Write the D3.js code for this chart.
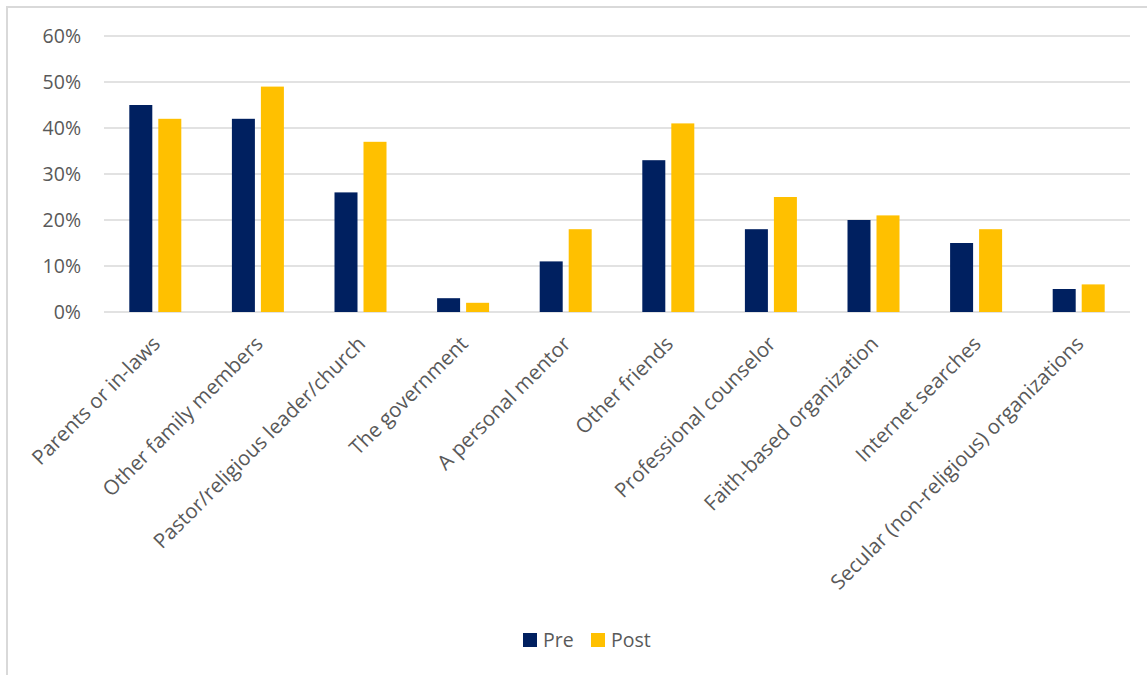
<!DOCTYPE html>
<html>
<head>
<meta charset="utf-8">
<script src="https://cdn.jsdelivr.net/npm/d3@7"></script>
<style>
  body { margin: 0; background: #fff; }
  svg { display: block; font-family: "Open Sans", Lato, sans-serif; }
</style>
</head>
<body>
<svg id="chart" width="1147" height="675"></svg>
<script>
const categories = [
  'Parents or in-laws',
  'Other family members',
  'Pastor/religious leader/church',
  'The government',
  'A personal mentor',
  'Other friends',
  'Professional counselor',
  'Faith-based organization',
  'Internet searches',
  'Secular (non-religious) organizations'
];
const preValues = [45, 42, 26, 3, 11, 33, 18, 20, 15, 5];
const postValues = [42, 49, 37, 2, 18, 41, 25, 21, 18, 6];
const yTicks = [0, 10, 20, 30, 40, 50, 60];
const seriesNames = ['Pre', 'Post'];
const seriesColors = ['#002060', '#FFC000'];

const svg = d3.select('#chart');

// chart frame (only top/left edges fall inside the picture)
svg.append('rect')
  .attr('x', 7).attr('y', 7)
  .attr('width', 1160).attr('height', 700)
  .attr('fill', 'none')
  .attr('stroke', '#d9d9d9')
  .attr('stroke-width', 2);

const plotLeft = 104, plotRight = 1130, plotTop = 36, plotBottom = 312;

const x = d3.scaleBand().domain(categories).range([plotLeft, plotRight]);
const y = d3.scaleLinear().domain([0, 60]).range([plotBottom, plotTop]);

// gridlines
svg.append('g')
  .selectAll('line')
  .data(yTicks)
  .join('line')
  .attr('x1', plotLeft).attr('x2', plotRight)
  .attr('y1', d => y(d)).attr('y2', d => y(d))
  .attr('stroke', '#d9d9d9')
  .attr('stroke-width', 1.5);

// y labels
svg.append('g')
  .selectAll('text')
  .data(yTicks)
  .join('text')
  .attr('x', 81)
  .attr('y', d => y(d))
  .attr('dy', '0.36em')
  .attr('text-anchor', 'end')
  .attr('fill', '#595959')
  .attr('font-size', 19.5)
  .text(d => d + '%');

const barW = 23, gap = 6;
const series = [preValues, postValues];

series.forEach((vals, s) => {
  svg.append('g')
    .selectAll('rect')
    .data(vals)
    .join('rect')
    .attr('x', (d, i) => {
      const c = x(categories[i]) + x.bandwidth() / 2;
      return s === 0 ? c - gap / 2 - barW : c + gap / 2;
    })
    .attr('y', d => y(d))
    .attr('width', barW)
    .attr('height', d => plotBottom - y(d))
    .attr('fill', seriesColors[s]);
});

// category labels
svg.append('g')
  .selectAll('text')
  .data(categories)
  .join('text')
  .attr('transform', d => `translate(${x(d) + x.bandwidth() / 2 - 4},${plotBottom + 23}) rotate(-45)`)
  .attr('text-anchor', 'end')
  .attr('dy', '0.7em')
  .attr('fill', '#595959')
  .attr('font-size', 20.5)
  .text(d => d);

// legend
const legendX = [523, 591];
const legend = svg.append('g');
seriesNames.forEach((name, i) => {
  legend.append('rect')
    .attr('x', legendX[i]).attr('y', 633)
    .attr('width', 14).attr('height', 14)
    .attr('fill', seriesColors[i]);
  legend.append('text')
    .attr('x', legendX[i] + 20).attr('y', 647)
    .attr('fill', '#595959')
    .attr('font-size', 19.5)
    .text(name);
});
</script>
</body>
</html>
